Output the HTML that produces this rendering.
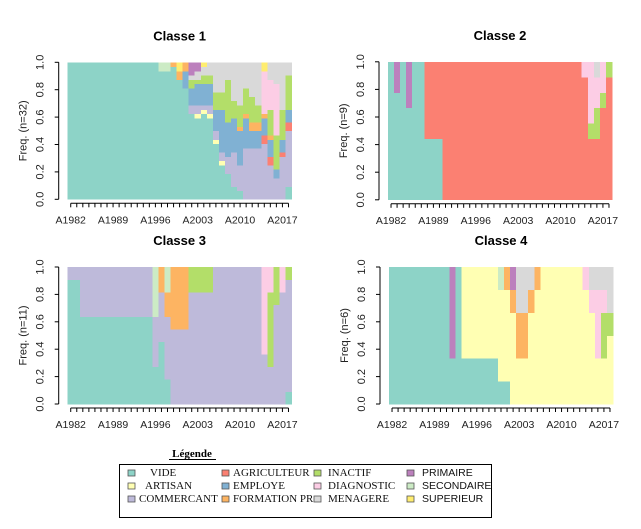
<!DOCTYPE html>
<html><head><meta charset="utf-8"><style>
html,body{margin:0;padding:0;background:#fff;}
svg{display:block;font-family:"Liberation Sans",sans-serif;}
</style></head><body>
<svg id="chart" width="641" height="529" viewBox="0 0 641 529" xmlns="http://www.w3.org/2000/svg">
<rect width="641" height="529" fill="#fff"/>
<g id="panels"></g>
<g>
<text x="192" y="457" text-anchor="middle" font-size="11" font-weight="bold" font-family="Liberation Serif, serif">Légende</text>
<line x1="169" y1="459.5" x2="216" y2="459.5" stroke="#000" stroke-width="1"/>
<rect x="119.5" y="464.5" width="372" height="53" fill="#fff" stroke="#000"/>
<g id="legend-entries"></g>
</g>
</svg>
<script>
const states = ["VIDE","ARTISAN","COMMERCANT","AGRICULTEUR","EMPLOYE","FORMATION PR","INACTIF","DIAGNOSTIC","MENAGERE","PRIMAIRE","SECONDAIRE","SUPERIEUR"];
const stateKeys = ["V","ART","COM","AGR","EMP","FOR","INA","DIA","MEN","PRI","SEC","SUP"];
const stateColors = ["#8DD3C7","#FFFFB3","#BEBADA","#FB8072","#80B1D3","#FDB462","#B3DE69","#FCCDE5","#D9D9D9","#BC80BD","#CCEBC5","#FFED6F"];
const years = [1982,1983,1984,1985,1986,1987,1988,1989,1990,1991,1992,1993,1994,1995,1996,1997,1998,1999,2000,2001,2002,2003,2004,2005,2006,2007,2008,2009,2010,2011,2012,2013,2014,2015,2016,2017,2018];
const tickLabels = ["A1982","A1989","A1996","A2003","A2010","A2017"];
const yTicks = [0,0.2,0.4,0.6,0.8,1.0];
const panelTitles = ["Classe 1","Classe 2","Classe 3","Classe 4"];
const panelN = [32,9,11,6];

const classe1 = [
{V:32},{V:32},{V:32},{V:32},{V:32},{V:32},{V:32},{V:32},{V:32},{V:32},
{V:32},{V:32},{V:32},{V:32},{V:32},{V:30,SEC:2},{V:30,SEC:2},{V:31,FOR:1},{V:28,FOR:2,SUP:2},{V:26,EMP:4,FOR:2},
{V:20,COM:2,EMP:4,INA:2,MEN:1,PRI:3},{V:19,ART:1,COM:2,EMP:5,INA:1,MEN:2,PRI:2},{V:20,ART:1,COM:1,EMP:5,INA:2,MEN:2,SUP:1},{V:19,ART:1,COM:2,EMP:5,INA:2,MEN:3},{V:13,ART:1,COM:2,EMP:5,INA:4,MEN:7},
{V:8,ART:1,COM:2,EMP:10,INA:4,MEN:7},{V:6,COM:4,EMP:8,INA:10,MEN:4},{V:3,COM:8,EMP:8,INA:4,MEN:9},{V:2,COM:6,EMP:8,FOR:1,INA:5,MEN:10},{COM:12,EMP:7,FOR:1,INA:6,MEN:6},
{COM:12,EMP:4,FOR:2,INA:6,MEN:8},{COM:12,EMP:4,FOR:2,INA:4,MEN:10},{COM:13,AGR:2,EMP:4,FOR:1,DIA:10,SUP:2},{COM:8,AGR:2,EMP:4,FOR:1,INA:6,DIA:7,MEN:4},{COM:5,EMP:2,INA:8,DIA:12,MEN:5},
{COM:10,AGR:1,EMP:3,INA:7,MEN:11},{V:3,COM:13,AGR:2,EMP:3,INA:8,MEN:3}
];
const classe2 = [
{V:9},{V:7,PRI:2},{V:9},{V:6,PRI:3},{V:9},{V:9},{V:4,AGR:5},{V:4,AGR:5},{V:4,AGR:5},{AGR:9},
{AGR:9},{AGR:9},{AGR:9},{AGR:9},{AGR:9},{AGR:9},{AGR:9},{AGR:9},{AGR:9},{AGR:9},
{AGR:9},{AGR:9},{AGR:9},{AGR:9},{AGR:9},{AGR:9},{AGR:9},{AGR:9},{AGR:9},{AGR:9},
{AGR:9},{AGR:9},{AGR:8,DIA:1},{AGR:4,INA:1,DIA:4},{AGR:4,INA:2,DIA:2,MEN:1},{AGR:6,INA:1,DIA:2},{AGR:8,INA:1}
];
const classe3 = [
{V:10,COM:1},{V:10,COM:1},{V:7,COM:4},{V:7,COM:4},{V:7,COM:4},{V:7,COM:4},{V:7,COM:4},{V:7,COM:4},{V:7,COM:4},{V:7,COM:4},
{V:7,COM:4},{V:7,COM:4},{V:7,COM:4},{V:7,COM:4},{V:3,COM:4,SEC:4},{V:5,COM:4,FOR:2},{V:2,COM:5,FOR:2,SEC:2},{COM:6,FOR:5},{COM:6,FOR:5},{COM:6,FOR:5},
{COM:9,INA:2},{COM:9,INA:2},{COM:9,INA:2},{COM:9,INA:2},{COM:11},{COM:11},{COM:11},{COM:11},{COM:11},{COM:11},
{COM:11},{COM:11},{COM:4,DIA:7},{COM:3,INA:6,DIA:2},{COM:8,INA:3},{COM:9,DIA:2},{V:1,COM:9,INA:1}
];
const classe4 = [
{V:6},{V:6},{V:6},{V:6},{V:6},{V:6},{V:6},{V:6},{V:6},{V:6},
{V:2,PRI:4},{V:6},{V:2,ART:4},{V:2,ART:4},{V:2,ART:4},{V:2,ART:4},{V:2,ART:4},{V:2,ART:4},{V:1,ART:4,SEC:1},{V:1,ART:4,FOR:1},
{ART:4,FOR:1,PRI:1},{ART:2,FOR:2,MEN:2},{ART:2,FOR:2,MEN:2},{ART:4,FOR:1,MEN:1},{ART:5,FOR:1},{ART:6},{ART:6},{ART:6},{ART:6},{ART:6},
{ART:6},{ART:6},{ART:5,DIA:1},{ART:4,DIA:1,MEN:1},{ART:2,DIA:3,MEN:1},{ART:2,INA:2,DIA:1,MEN:1},{ART:3,INA:1,MEN:2}
];
const panelData = [classe1,classe2,classe3,classe4];

const NS = "http://www.w3.org/2000/svg";
function mk(tag, attrs, parent){ const e=document.createElementNS(NS,tag); for(const k in attrs) e.setAttribute(k,attrs[k]); parent.appendChild(e); return e; }
const boxes = [
 {x0:67.7,x1:291.5,yt:62.3,yb:199.3},
 {x0:388,x1:612,yt:61.8,yb:199.8},
 {x0:67.7,x1:291.5,yt:267,yb:404},
 {x0:389,x1:613,yt:267,yb:404}
];
const root = document.getElementById('panels');
panelData.forEach((cols,pi)=>{
  const b = boxes[pi], n = panelN[pi];
  const g = mk('g',{},root);
  
  
  const cw = (b.x1-b.x0)/years.length;
  const xScale = i => b.x0 + i*cw;
  const yScale = v => b.yb - v*(b.yb-b.yt);
  cols.forEach((col,ci)=>{
    let cum=0;
    stateKeys.forEach((k,si)=>{
      const c = col[k]||0; if(!c) return;
      const f0=cum/n, f1=(cum+c)/n; cum+=c;
      const r = mk('rect',{x:xScale(ci),y:yScale(f1),width:cw+0.6,height:yScale(f0)-yScale(f1)+0.4,fill:stateColors[si],'shape-rendering':'crispEdges'},g);
      
      
    });
  });
  const t = mk('text',{x:(b.x0+b.x1)/2,y:b.yt-22,'text-anchor':'middle','font-size':13,'font-weight':'bold'},g);
  t.textContent = panelTitles[pi];
  
  
  const ax = b.x0-9;
  const ya = mk('line',{x1:ax,x2:ax,y1:yScale(0),y2:yScale(1),stroke:'#000'},g);
  
  
  yTicks.forEach(v=>{
    mk('line',{x1:ax-4,x2:ax,y1:yScale(v),y2:yScale(v),stroke:'#000'},g);
    const yy=yScale(v);
    const tl = mk('text',{x:b.x0-24,y:yy,'text-anchor':'middle','font-size':11,transform:`rotate(-90 ${b.x0-24} ${yy})`,fill:'#222'},g);
    tl.textContent = v.toFixed(1);
    
    
  });
  const yl = mk('text',{x:b.x0-41,y:(b.yt+b.yb)/2,'text-anchor':'middle','font-size':11,transform:`rotate(-90 ${b.x0-41} ${(b.yt+b.yb)/2})`,fill:'#222'},g);
  yl.textContent = 'Freq. (n='+n+')';
  
  
  const xl = b.yb+4;
  const xa = mk('line',{x1:xScale(0.5),x2:xScale(years.length-0.5),y1:xl,y2:xl,stroke:'#000'},g);
  
  
  years.forEach((yr,i)=>{
    mk('line',{x1:xScale(i+0.5),x2:xScale(i+0.5),y1:xl,y2:xl+4,stroke:'#000'},g);
  });
  tickLabels.forEach((lab,i)=>{
    const idx = years.indexOf(parseInt(lab.slice(1)));
    const tx = mk('text',{x:xScale(idx+0.5),y:xl+20,'text-anchor':'middle','font-size':10.5,fill:'#222'},g);
    tx.textContent = lab;
    
    
  });
});
const lg = document.getElementById('legend-entries');
const legCols = [131,225,317,410];
const legText = [[150,145,139],[233,233,233],[328,328,328],[422,422,422]];
const legRows = [475,488,501];
states.forEach((s,i)=>{
  const c = Math.floor(i/3), r = i%3;
  const e = mk('g',{},lg);
  
  
  mk('rect',{x:legCols[c]-3,y:legRows[r]-5,width:7,height:6,fill:stateColors[i],stroke:'#555','stroke-width':0.8},e);
  const t = mk('text',{x:legText[c][r],y:legRows[r]+1,'font-size':c<3?11:10.5,'font-family':c<3?'Liberation Serif, serif':'Liberation Sans, sans-serif',fill:'#111'},e);
  t.textContent = s;
});
</script>
</body></html>
